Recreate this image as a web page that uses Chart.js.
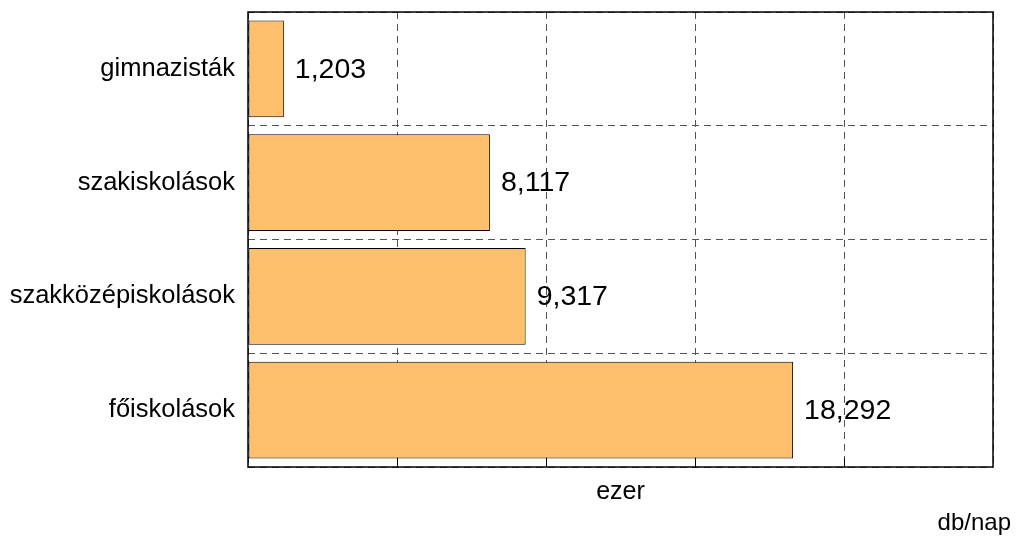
<!DOCTYPE html>
<html>
<head>
<meta charset="utf-8">
<script src="https://cdn.jsdelivr.net/npm/chart.js@4/dist/chart.umd.min.js"></script>
<style>
  html, body { margin: 0; padding: 0; background: #fff; }
  #wrap { width: 1019px; height: 547px; }
</style>
</head>
<body>
<div id="wrap"><canvas id="chart"></canvas></div>
<script>
// 教育段階ごとの値（ezer, db/nap）
const categories = ['gimnazisták', 'szakiskolások', 'szakközépiskolások', 'főiskolások'];
const values = [1203, 8117, 9317, 18292];
const axisMax = 25000;
const axisStep = 5000;
const unitLabel = 'db/nap';

const FONT = 'Arial, "Liberation Sans", sans-serif';

// プロット領域の外枠と、下辺の内向き目盛り、右下の単位表記
const framePlugin = {
  id: 'frame',
  afterDatasetsDraw(chart) {
    const { ctx, chartArea, scales } = chart;
    ctx.save();
    ctx.strokeStyle = '#000';
    ctx.lineWidth = 1.5;
    ctx.strokeRect(chartArea.left, chartArea.top, chartArea.right - chartArea.left, chartArea.bottom - chartArea.top);
    ctx.lineWidth = 1;
    for (let v = axisStep; v < axisMax; v += axisStep) {
      const x = Math.round(scales.x.getPixelForValue(v)) + 0.5;
      ctx.beginPath();
      ctx.moveTo(x, chartArea.bottom);
      ctx.lineTo(x, chartArea.bottom - 9);
      ctx.stroke();
    }
    // 単位はキャンバス右端寄せ（タイトルだと余白に揃ってしまうため手描き）
    ctx.font = '24px ' + FONT;
    ctx.fillStyle = '#000';
    ctx.textAlign = 'right';
    ctx.textBaseline = 'middle';
    ctx.fillText(unitLabel, chart.width - 8, chart.height - 24);
    ctx.restore();
  },
};

// バー右側の数値ラベル
const valueLabelPlugin = {
  id: 'valueLabels',
  afterDatasetsDraw(chart) {
    const { ctx } = chart;
    const meta = chart.getDatasetMeta(0);
    ctx.save();
    ctx.font = '28.5px ' + FONT;
    ctx.fillStyle = '#000';
    ctx.textAlign = 'left';
    ctx.textBaseline = 'middle';
    meta.data.forEach((bar, i) => {
      ctx.fillText(values[i].toLocaleString('en-US'), bar.x + 11, bar.y + 1);
    });
    ctx.restore();
  },
};

new Chart(document.getElementById('chart'), {
  type: 'bar',
  data: {
    labels: categories,
    datasets: [{
      data: values,
      backgroundColor: '#FEC06C',
      borderColor: '#000',
      borderWidth: 1,
      borderSkipped: false,
      barPercentage: 0.85,
      categoryPercentage: 1,
    }],
  },
  options: {
    indexAxis: 'y',
    responsive: true,
    maintainAspectRatio: false,
    animation: false,
    layout: { padding: { left: 10, right: 26, top: 12, bottom: 39 } },
    plugins: {
      legend: { display: false },
      tooltip: { enabled: false },
    },
    scales: {
      x: {
        min: 0,
        max: axisMax,
        ticks: { display: false, stepSize: axisStep },
        grid: {
          color: '#555',
          lineWidth: 1,
          drawTicks: false,
        },
        border: { display: false, dash: [7, 5] },
        title: {
          display: true,
          text: 'ezer',
          color: '#000',
          font: { family: FONT, size: 25 },
          padding: { top: 10, bottom: 1 },
        },
      },
      y: {
        afterFit(scale) {
          scale.width = 238;
          scale.paddingTop = 0;
          scale.paddingBottom = 0;
        },
        ticks: {
          color: '#000',
          font: { family: FONT, size: 25.5 },
          padding: 13,
        },
        grid: {
          color: '#555',
          lineWidth: 1,
          drawTicks: false,
          offset: true,
        },
        border: { display: false, dash: [7, 5] },
      },
    },
  },
  plugins: [framePlugin, valueLabelPlugin],
});
</script>
</body>
</html>
